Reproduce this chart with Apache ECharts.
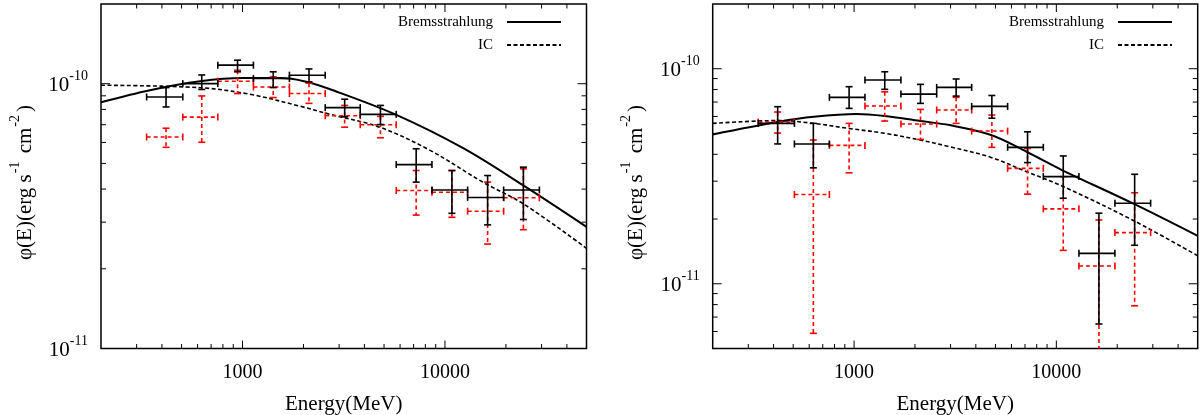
<!DOCTYPE html>
<html><head><meta charset="utf-8">
<script src="https://cdn.jsdelivr.net/npm/echarts@6/dist/echarts.min.js"></script>
<style>html,body{margin:0;padding:0;background:#fff}#c{width:1200px;height:415px}</style>
</head><body><div id="c"></div>
<script>
// ---------- data ----------
const binCenters = [419, 629, 945, 1418, 2130, 3196, 4800, 7206, 10820, 16240, 24390];
const binEdges   = [336, 507, 755, 1132, 1705, 2561, 3814, 5744, 8623, 12935, 19484, 29260];

// left panel, black points
const lBlackF  = [8.91e-11, 1.001e-10, 1.175e-10, 1.047e-10, 1.077e-10, 8.12e-11, 7.66e-11, 4.95e-11, 3.97e-11, 3.72e-11, 3.97e-11];
const lBlackLo = [8.17e-11, 9.51e-11, 1.109e-10, 9.67e-11, 1.017e-10, 7.50e-11, 7.01e-11, 4.25e-11, 3.24e-11, 2.93e-11, 3.07e-11];
const lBlackHi = [9.67e-11, 1.079e-10, 1.227e-10, 1.109e-10, 1.137e-10, 8.74e-11, 8.28e-11, 5.68e-11, 4.70e-11, 4.50e-11, 4.84e-11];
// left panel, red points
const lRedF  = [6.29e-11, 7.48e-11, 1.021e-10, 9.72e-11, 9.18e-11, 7.57e-11, 7.00e-11, 3.95e-11, 3.89e-11, 3.30e-11, 3.71e-11];
const lRedLo = [5.75e-11, 6.01e-11, 9.18e-11, 8.87e-11, 8.43e-11, 6.85e-11, 6.25e-11, 3.19e-11, 3.13e-11, 2.48e-11, 2.81e-11];
const lRedHi = [6.79e-11, 8.99e-11, 1.124e-10, 1.061e-10, 1.005e-10, 8.28e-11, 7.53e-11, 4.70e-11, 4.70e-11, 4.25e-11, 4.77e-11];
// right panel, black points
const rBlackF  = [5.57e-11, 4.47e-11, 7.36e-11, 8.86e-11, 7.62e-11, 8.19e-11, 6.68e-11, 4.31e-11, 3.15e-11, 1.385e-11, 2.37e-11];
const rBlackLo = [4.47e-11, 3.46e-11, 6.54e-11, 8.02e-11, 6.90e-11, 7.46e-11, 5.89e-11, 3.66e-11, 2.50e-11, 6.50e-12, 1.51e-11];
const rBlackHi = [6.66e-11, 5.57e-11, 8.25e-11, 9.68e-11, 8.46e-11, 8.96e-11, 7.51e-11, 5.09e-11, 3.93e-11, 2.13e-11, 3.23e-11];
// right panel, red points
const rRedF  = [5.65e-11, 2.60e-11, 4.40e-11, 6.71e-11, 5.53e-11, 6.43e-11, 5.13e-11, 3.44e-11, 2.23e-11, 1.21e-11, 1.73e-11];
const rRedLo = [5.02e-11, 5.88e-12, 3.28e-11, 5.71e-11, 4.69e-11, 5.57e-11, 4.31e-11, 2.61e-11, 1.43e-11, 3.0e-12, 7.90e-12];
const rRedHi = [6.29e-11, 4.66e-11, 5.57e-11, 7.81e-11, 6.47e-11, 7.36e-11, 6.09e-11, 4.26e-11, 3.15e-11, 1.98e-11, 2.65e-11];

// model curves [E, flux]
const lBrems = [[200,8.51e-11],[349,9.45e-11],[617,1.021e-10],[1007,1.05e-10],[1535,1.05e-10],[2038,1.02e-10],[2710,9.53e-11],[5680,7.66e-11],[12300,5.71e-11],[24370,4.13e-11],[50000,2.88e-11]];
const lIC    = [[200,9.87e-11],[617,9.66e-11],[1089,9.12e-11],[1928,8.22e-11],[2710,7.66e-11],[4790,6.84e-11],[8450,5.60e-11],[15450,4.24e-11],[24370,3.52e-11],[50000,2.39e-11]];
const rBrems = [[200,4.95e-11],[425,5.67e-11],[632,5.98e-11],[1026,6.16e-11],[1416,6.03e-11],[2124,5.71e-11],[2965,5.47e-11],[4757,4.92e-11],[7128,4.11e-11],[10660,3.38e-11],[23780,2.37e-11],[50000,1.67e-11]];
const rIC    = [[200,5.57e-11],[425,5.74e-11],[632,5.57e-11],[935,5.28e-11],[1416,5.01e-11],[2124,4.66e-11],[2965,4.34e-11],[4757,3.87e-11],[7128,3.32e-11],[10660,2.85e-11],[23780,1.98e-11],[50000,1.35e-11]];

// axis ranges and tick values
const xRange = [200, 50000];
const lYRange = [1e-11, 2e-10];
const rYRange = [5e-12, 2e-10];
const xMajorTicks = [1000, 10000];
const xMinorTicks = [300,400,500,600,700,800,900,2000,3000,4000,5000,6000,7000,8000,9000,20000,30000,40000];
const lYMajorTicks = [1e-11, 1e-10];
const lYMinorTicks = [2e-11,3e-11,4e-11,5e-11,6e-11,7e-11,8e-11,9e-11];
const rYMajorTicks = [1e-11, 1e-10];
const rYMinorTicks = [6e-12,7e-12,8e-12,9e-12,2e-11,3e-11,4e-11,5e-11,6e-11,7e-11,8e-11,9e-11];

const legendNames = ['Bremsstrahlung', 'IC'];
const xTitle = 'Energy(MeV)';
// y title pieces: [text, isSuperscript]
const yTitleParts = [['\u03c6(E)(erg s', false], ['-1', true], [' cm', false], ['-2', true], [')', false]];

// ---------- chart ----------
const FONT_NAME = 'Liberation Serif';
const BIG = '21px "Liberation Serif"';
const SMALL = '14px "Liberation Serif"';
const RED = '#ff0000';

const mctx = document.createElement('canvas').getContext('2d');
function textW(t, font) { mctx.font = font; return mctx.measureText(t).width; }

function isPow10(v) {
  const l = Math.log10(v);
  return Math.abs(l - Math.round(l)) < 1e-6;
}

function line(x1, y1, x2, y2, st) {
  return {type: 'line', shape: {x1, y1, x2, y2}, style: st};
}

function errRender(color, dash) {
  return function (params, api) {
    const cs = params.coordSys;
    const E = api.value(0), F = api.value(1);
    const c = api.coord([E, F]);
    const l = api.coord([api.value(2), F]);
    const r = api.coord([api.value(3), F]);
    let yLo = api.coord([E, api.value(4)])[1];
    const yHi = api.coord([E, api.value(5)])[1];
    const bottom = cs.y + cs.height;
    const clipped = yLo > bottom;
    if (clipped) yLo = bottom;
    const st = {stroke: color, lineWidth: 1.6};
    if (dash) st.lineDash = dash;
    const cst = {stroke: color, lineWidth: 1.6};
    const cap = 3.5;
    const ch = [
      line(l[0], c[1], r[0], c[1], st),
      line(c[0], yHi, c[0], yLo, st),
      line(l[0], c[1] - cap, l[0], c[1] + cap, cst),
      line(r[0], c[1] - cap, r[0], c[1] + cap, cst),
      line(c[0] - cap, yHi, c[0] + cap, yHi, cst)
    ];
    if (!clipped) ch.push(line(c[0] - cap, yLo, c[0] + cap, yLo, cst));
    return {type: 'group', children: ch};
  };
}

function xTickRender(len) {
  return function (params, api) {
    const cs = params.coordSys;
    const x = api.coord([api.value(0), api.value(1)])[0];
    const st = {stroke: '#000', lineWidth: 1};
    return {type: 'group', children: [
      line(x, cs.y + cs.height, x, cs.y + cs.height - len, st),
      line(x, cs.y, x, cs.y + len, st)
    ]};
  };
}
function yTickRender(len) {
  return function (params, api) {
    const cs = params.coordSys;
    const y = api.coord([api.value(0), api.value(1)])[1];
    const st = {stroke: '#000', lineWidth: 1};
    return {type: 'group', children: [
      line(cs.x, y, cs.x + len, y, st),
      line(cs.x + cs.width, y, cs.x + cs.width - len, y, st)
    ]};
  };
}
// y tick labels "10^n" as real text, placed through the axis scale
function yLabelRender(params, api) {
  const cs = params.coordSys;
  const v = api.value(1);
  const y = api.coord([api.value(0), v])[1];
  const exp = String(Math.round(Math.log10(v)));
  const right = cs.x - 13;
  const ew = textW(exp, SMALL);
  return {type: 'group', children: [
    {type: 'text', style: {text: '10', x: right - ew, y: y + 1.5, font: BIG, fill: '#000', align: 'right', verticalAlign: 'middle'}},
    {type: 'text', style: {text: exp, x: right, y: y - 7, font: SMALL, fill: '#000', align: 'right', verticalAlign: 'middle'}}
  ]};
}

function errData(F, lo, hi) {
  return binCenters.map((E, i) => [E, F[i], binEdges[i], binEdges[i + 1], lo[i], hi[i]]);
}

function panelSeries(idx, brems, ic, bF, bLo, bHi, rF, rLo, rHi, yRange, yMaj, yMin) {
  const base = {xAxisIndex: idx, yAxisIndex: idx, silent: true, encode: {x: 0, y: 1}};
  return [
    Object.assign({type: 'line', name: legendNames[0], data: brems, smooth: 0.35, symbol: 'none',
      lineStyle: {color: '#000', width: 2}, itemStyle: {color: '#000'}, z: 2}, base),
    Object.assign({type: 'line', name: legendNames[1], data: ic, smooth: 0.35, symbol: 'none',
      lineStyle: {color: '#000', width: 1.6, type: [4, 2.5]}, itemStyle: {color: '#000'}, z: 2}, base),
    Object.assign({type: 'custom', renderItem: errRender(RED, [4, 3]), data: errData(rF, rLo, rHi), z: 3}, base),
    Object.assign({type: 'custom', renderItem: errRender('#000', null), data: errData(bF, bLo, bHi), z: 4}, base),
    Object.assign({type: 'custom', renderItem: xTickRender(8), data: xMajorTicks.map(v => [v, yRange[0]]), z: 5}, base),
    Object.assign({type: 'custom', renderItem: xTickRender(4.5), data: xMinorTicks.map(v => [v, yRange[0]]), z: 5}, base),
    Object.assign({type: 'custom', renderItem: yTickRender(9), data: yMaj.map(v => [xRange[0], v]), z: 5}, base),
    Object.assign({type: 'custom', renderItem: yTickRender(5), data: yMin.map(v => [xRange[0], v]), z: 5}, base),
    Object.assign({type: 'custom', renderItem: yLabelRender, data: yMaj.map(v => [xRange[0], v]), z: 5}, base)
  ];
}

function xAxisCfg(gi) {
  return {
    type: 'log', logBase: 10, gridIndex: gi, min: xRange[0], max: xRange[1],
    axisLine: {show: false}, axisTick: {show: false}, splitLine: {show: false},
    axisLabel: {fontFamily: FONT_NAME, fontSize: 20, color: '#000', margin: 14,
      formatter: v => isPow10(v) ? String(Math.round(v)) : ''},
    name: xTitle, nameLocation: 'middle', nameGap: 45,
    nameTextStyle: {fontFamily: FONT_NAME, fontSize: 21, color: '#000'}
  };
}
function yAxisCfg(gi, range) {
  return {
    type: 'log', logBase: 10, gridIndex: gi, min: range[0], max: range[1],
    axisLine: {show: false}, axisTick: {show: false}, splitLine: {show: false},
    axisLabel: {show: false}
  };
}
function legendCfg(right) {
  return {
    data: legendNames, orient: 'vertical', right: right, top: 9, align: 'right',
    itemWidth: 54, itemHeight: 14, itemGap: 7, selectedMode: false,
    itemStyle: {color: 'rgba(0,0,0,0)', borderColor: 'rgba(0,0,0,0)', borderWidth: 0},
    textStyle: {fontFamily: FONT_NAME, fontSize: 15, color: '#000', lineHeight: 16, padding: [0, 9, 0, 0]}
  };
}
// rotated y-axis title built from real text pieces
function yTitleGraphic(cx, baseY) {
  const children = [];
  let x = 0;
  yTitleParts.forEach(([t, sup]) => {
    const font = sup ? SMALL : BIG;
    if (sup) x += 1;
    children.push({type: 'text', style: {text: t, x: x, y: sup ? -10 : 0, font: font, fill: '#000', align: 'left', verticalAlign: 'middle'}});
    x += textW(t, font) + (sup ? 3 : 0);
  });
  return {type: 'group', x: cx, y: baseY, rotation: Math.PI / 2, children: children, silent: true};
}

const gridBase = {top: 4, height: 344.5, show: true, borderColor: '#000', borderWidth: 1.5,
  backgroundColor: 'transparent', containLabel: false, outerBoundsMode: 'none'};
const option = {
  animation: false,
  backgroundColor: '#fff',
  grid: [
    Object.assign({left: 101, width: 485.5}, gridBase),
    Object.assign({left: 712.7, width: 485}, gridBase)
  ],
  xAxis: [xAxisCfg(0), xAxisCfg(1)],
  yAxis: [yAxisCfg(0, lYRange), yAxisCfg(1, rYRange)],
  legend: [legendCfg(633), legendCfg(22)],
  graphic: [yTitleGraphic(25, 260), yTitleGraphic(636.7, 260)],
  series: [].concat(
    panelSeries(0, lBrems, lIC, lBlackF, lBlackLo, lBlackHi, lRedF, lRedLo, lRedHi, lYRange, lYMajorTicks, lYMinorTicks),
    panelSeries(1, rBrems, rIC, rBlackF, rBlackLo, rBlackHi, rRedF, rRedLo, rRedHi, rYRange, rYMajorTicks, rYMinorTicks)
  )
};
const chart = echarts.init(document.getElementById('c'));
chart.setOption(option);
</script></body></html>
